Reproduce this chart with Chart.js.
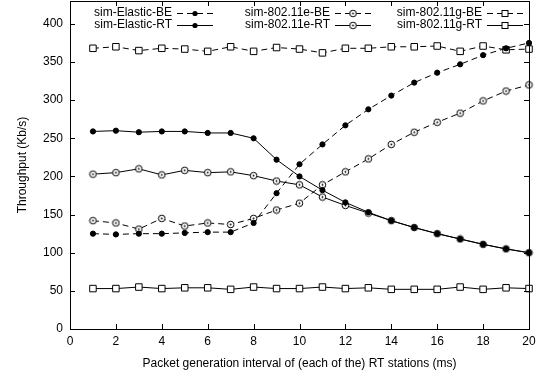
<!DOCTYPE html>
<html>
<head>
<meta charset="utf-8">
<script src="https://cdn.jsdelivr.net/npm/chart.js@4/dist/chart.umd.min.js"></script>
<style>
  html, body { margin: 0; padding: 0; background: #fff; }
  #wrap { width: 551px; height: 376px; }
</style>
</head>
<body>
<div id="wrap"><canvas id="c" width="551" height="376"></canvas></div>
<script>
// packet generation interval (ms)
let intervals = [1, 2, 3, 4, 5, 6, 7, 8, 9, 10, 11, 12, 13, 14, 15, 16, 17, 18, 19, 20];

// throughput (Kb/s)
let elasticBE = [125, 124, 125, 125, 126, 127, 127, 139, 178, 216, 242, 267, 288, 306, 323, 336, 347, 359, 368, 375];
let elasticRT = [259, 260, 258, 259, 259, 257, 257, 250, 222, 200, 182, 166, 153, 142, 133, 125, 118, 111, 105, 100];
let e80211BE = [142, 139, 131, 145, 135, 139, 137, 145, 156, 165, 189, 206, 223, 242, 258, 271, 283, 299, 312, 320];
let e80211RT = [203, 205, 210, 202, 208, 205, 206, 201, 194, 189, 173, 162, 152, 142, 133, 125, 118, 111, 105, 100];
let g80211BE = [368, 370, 365, 368, 367, 364, 370, 364, 369, 367, 362, 368, 368, 370, 370, 371, 364, 371, 366, 367];
let g80211RT = [53, 53, 55, 53, 54, 54, 52, 55, 53, 53, 55, 53, 54, 52, 52, 52, 55, 52, 54, 53];

let xTicks = [0, 2, 4, 6, 8, 10, 12, 14, 16, 18, 20];
let yTicks = [0, 50, 100, 150, 200, 250, 300, 350, 400];

const FONT = "'Liberation Sans', Arial, sans-serif";

// open circle with a small dot in the middle, like the gnuplot marker
function ringMarker() {
  let cv = document.createElement("canvas");
  cv.width = 9; cv.height = 9;
  let g = cv.getContext("2d");
  g.strokeStyle = "#000";
  g.lineWidth = 1;
  g.fillStyle = "#fff";
  g.beginPath(); g.arc(4.5, 4.5, 3.3, 0, Math.PI * 2); g.fill(); g.stroke();
  g.fillStyle = "#000";
  g.beginPath(); g.arc(4.5, 4.5, 0.9, 0, Math.PI * 2); g.fill();
  return cv;
}
const ring = ringMarker();

function series(label, values, dashed, marker) {
  let ds = {
    label: label,
    data: values.map((v, i) => ({ x: intervals[i], y: v })),
    borderColor: "#000",
    borderWidth: 1,
    borderDash: dashed ? [6, 4] : [],
    backgroundColor: "#000",
    pointBorderColor: "#000",
    pointBorderWidth: 1,
    tension: 0,
    clip: 6,
    marker: marker
  };
  if (marker == "dot") {
    ds.pointStyle = "circle";
    ds.pointRadius = 2.6;
    ds.pointBackgroundColor = "#000";
  } else if (marker == "ring") {
    ds.pointStyle = ring;
    ds.pointRadius = 4;
  } else {
    ds.pointStyle = "rect";
    ds.pointRadius = 4.6;
    ds.pointBackgroundColor = "#fff";
  }
  return ds;
}

// gnuplot-like legend: label right-aligned, sample line to the right
const gnuLegend = {
  id: "gnuLegend",
  afterDatasetsDraw(chart) {
    const ctx = chart.ctx;
    const textEnd = [172, 330, 482];
    const rowY = [13, 25];
    ctx.save();
    ctx.font = "12px " + FONT;
    ctx.textAlign = "right";
    ctx.textBaseline = "middle";
    chart.data.datasets.forEach((ds, i) => {
      let col = Math.floor(i / 2), row = i % 2;
      let tx = textEnd[col], ty = rowY[row];
      ctx.fillStyle = "#000";
      ctx.fillText(ds.label, tx, ty);
      let x0 = tx + 5, x1 = tx + 41;
      ctx.strokeStyle = "#000";
      ctx.lineWidth = 1;
      ctx.setLineDash(ds.borderDash);
      ctx.beginPath(); ctx.moveTo(x0, ty + 0.5); ctx.lineTo(x1, ty + 0.5); ctx.stroke();
      ctx.setLineDash([]);
      let mx = (x0 + x1) / 2;
      if (ds.marker == "dot") {
        ctx.beginPath(); ctx.arc(mx, ty + 0.5, 2.6, 0, Math.PI * 2); ctx.fill();
      } else if (ds.marker == "ring") {
        ctx.drawImage(ring, mx - 4.5, ty - 4);
      } else {
        ctx.fillStyle = "#fff";
        ctx.fillRect(mx - 3, ty - 2.5, 6, 6);
        ctx.strokeRect(mx - 3, ty - 2.5, 6, 6);
      }
    });
    ctx.restore();
  }
};

// frame and inward tick marks on all four sides
const frame = {
  id: "frame",
  afterDraw(chart) {
    const ctx = chart.ctx;
    const a = chart.chartArea;
    const xs = chart.scales.x, ys = chart.scales.y;
    ctx.save();
    ctx.strokeStyle = "#000";
    ctx.lineWidth = 1;
    ctx.strokeRect(Math.round(a.left) + 0.5, Math.round(a.top) + 0.5, Math.round(a.right - a.left), Math.round(a.bottom - a.top));
    ctx.beginPath();
    xTicks.forEach(v => {
      let px = Math.round(xs.getPixelForValue(v)) + 0.5;
      ctx.moveTo(px, a.bottom); ctx.lineTo(px, a.bottom - 5);
      ctx.moveTo(px, a.top); ctx.lineTo(px, a.top + 5);
    });
    yTicks.forEach(v => {
      let py = Math.round(ys.getPixelForValue(v)) + 0.5;
      ctx.moveTo(a.left, py); ctx.lineTo(a.left + 5, py);
      ctx.moveTo(a.right, py); ctx.lineTo(a.right - 5, py);
    });
    ctx.stroke();
    ctx.restore();
  }
};

new Chart(document.getElementById("c"), {
  type: "line",
  data: {
    datasets: [
      series("sim-Elastic-BE", elasticBE, true, "dot"),
      series("sim-Elastic-RT", elasticRT, false, "dot"),
      series("sim-802.11e-BE", e80211BE, true, "ring"),
      series("sim-802.11e-RT", e80211RT, false, "ring"),
      series("sim-802.11g-BE", g80211BE, true, "square"),
      series("sim-802.11g-RT", g80211RT, false, "square")
    ]
  },
  options: {
    responsive: false,
    animation: false,
    layout: { autoPadding: false, padding: { left: 0, right: 22, top: 1, bottom: 0 } },
    plugins: { legend: { display: false }, tooltip: { enabled: false } },
    scales: {
      x: {
        type: "linear",
        min: 0,
        max: 20,
        grid: { display: false, drawTicks: false },
        border: { display: false },
        afterBuildTicks: (s) => { s.ticks = xTicks.map(v => ({ value: v })); },
        afterFit: (s) => { s.height = 47; s.paddingLeft = 0; s.paddingRight = 0; },
        ticks: { color: "#000", padding: 5, maxRotation: 0, font: { family: FONT, size: 12 } },
        title: {
          display: true,
          text: "Packet generation interval of (each of the) RT stations (ms)",
          color: "#000",
          font: { family: FONT, size: 12 },
          padding: { top: 0, bottom: 5 }
        }
      },
      y: {
        type: "linear",
        min: 0,
        max: 430,
        grid: { display: false, drawTicks: false },
        border: { display: false },
        afterBuildTicks: (s) => { s.ticks = yTicks.map(v => ({ value: v })); },
        afterFit: (s) => { s.width = 70; s.paddingTop = 0; s.paddingBottom = 0; },
        ticks: { color: "#000", padding: 7, font: { family: FONT, size: 12 } },
        title: {
          display: true,
          text: "Throughput (Kb/s)",
          color: "#000",
          font: { family: FONT, size: 12 },
          padding: { top: 15, bottom: 0 }
        }
      }
    }
  },
  plugins: [gnuLegend, frame]
});
</script>
</body>
</html>
